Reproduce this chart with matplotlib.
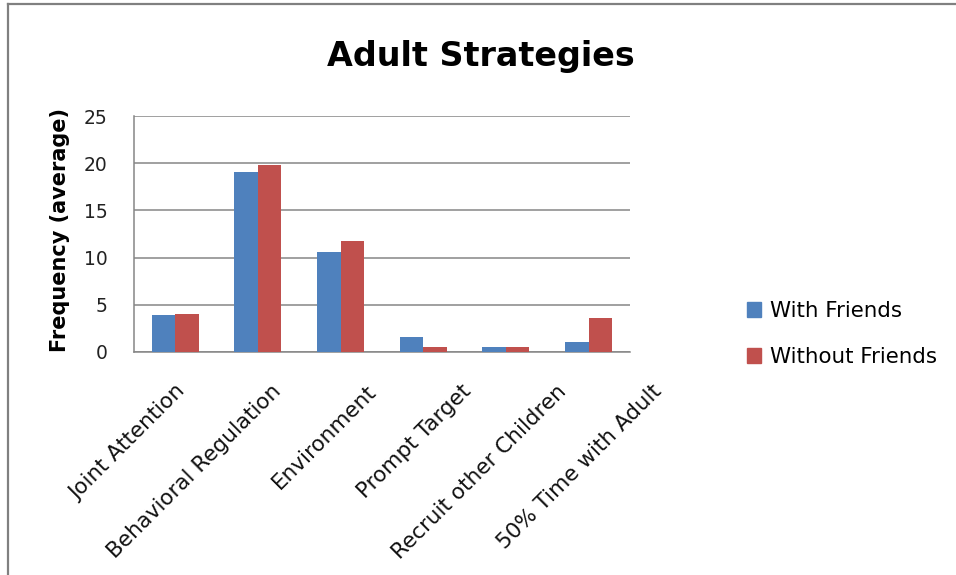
import matplotlib.pyplot as plt
import numpy as np
from matplotlib.lines import Line2D
from matplotlib.patches import Patch
from matplotlib.transforms import ScaledTranslation

plt.rcParams['font.family'] = ['DejaVu Sans']

categories = ["Joint Attention", "Behavioral Regulation", "Environment",
              "Prompt Target", "Recruit other Children", "50% Time with Adult"]
with_friends = [3.9, 19.1, 10.6, 1.6, 0.5, 1.1]
without_friends = [4.0, 19.8, 11.8, 0.5, 0.5, 3.6]

blue = "#4F81BD"
red = "#C0504D"
grey = "#868686"

fig = plt.figure(figsize=(9.56, 5.75), dpi=100)
ax = fig.add_axes([0.140, 0.388, 0.519, 0.410])

x = np.arange(len(categories))
w = 0.284
ax.bar(x - w / 2, with_friends, w, color=blue, label="With Friends", zorder=3)
ax.bar(x + w / 2, without_friends, w, color=red, label="Without Friends", zorder=3)

ax.set_xlim(-0.5, len(categories) - 0.5)
ax.set_ylim(0, 25)
ax.set_yticks([0, 5, 10, 15, 20, 25])
ax.yaxis.grid(True, color=grey, linewidth=1.1, zorder=0)
ax.set_axisbelow(True)
for s in ["top", "right"]:
    ax.spines[s].set_visible(False)
for s in ["left", "bottom"]:
    ax.spines[s].set_color(grey)
    ax.spines[s].set_linewidth(1.1)
ax.tick_params(axis="y", length=0, pad=19, labelsize=13.5, labelcolor="#222222")
ax.tick_params(axis="x", length=0, pad=21)
ax.set_xticks(x)
ax.set_xticklabels(categories, rotation=45, ha="right", rotation_mode="anchor",
                   fontsize=15.5, color="#111111")
# labels in the original drift right a little more for each category
for i, lbl in enumerate(ax.get_xticklabels()):
    lbl.set_transform(lbl.get_transform() +
                      ScaledTranslation(12.6 * i / 100, 0, fig.dpi_scale_trans))

fig.text(60 / 956, 0.600, "Frequency (average)", rotation=90, ha="center",
         va="center", fontsize=15, fontweight="bold")

fig.text(481 / 956, 1 - 66 / 575, "Adult Strategies", ha="center", va="baseline",
         fontsize=24, fontweight="bold")

handles = [Patch(color=blue), Patch(color=red)]
fig.legend(handles, ["With Friends", "Without Friends"], loc="center left",
           bbox_to_anchor=(736 / 956, 0.419), frameon=False, fontsize=15.4,
           borderpad=0, handlelength=0.68, handleheight=0.68, handletextpad=0.4,
           labelspacing=1.2)

# page border
fig.add_artist(Line2D([8 / 956, 1], [1 - 4 / 575, 1 - 4 / 575], color="#808080",
                      linewidth=1.6, transform=fig.transFigure))
fig.add_artist(Line2D([8 / 956, 8 / 956], [0, 1 - 4 / 575], color="#808080",
                      linewidth=1.6, transform=fig.transFigure))

fig.savefig("out.png", dpi=100)
